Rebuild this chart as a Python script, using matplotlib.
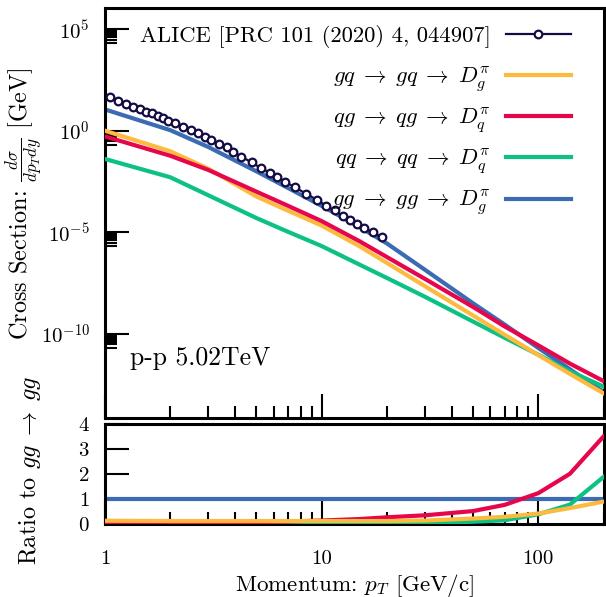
import numpy as np
import matplotlib
matplotlib.use('Agg')
import matplotlib.pyplot as plt
from matplotlib.ticker import FixedLocator, NullFormatter, FixedFormatter, NullLocator

plt.rcParams.update({
    'font.family': 'cmr10',
    'mathtext.fontset': 'cm',
    'axes.unicode_minus': False,
    'axes.formatter.use_mathtext': True,
    'font.size': 15,
})

# ---------------- data ----------------
alice_pt = [1.05, 1.15, 1.25, 1.35, 1.45, 1.55, 1.65, 1.75, 1.85, 1.95,
            2.1, 2.3, 2.5, 2.7, 2.9, 3.1, 3.35, 3.65, 3.9, 4.25, 4.75,
            5.25, 5.75, 6.25, 6.75, 7.5, 8.5, 9.5, 10.5, 11.5, 12.5, 13.5,
            14.5, 15.75, 17.25, 19.0]
alice_xs = [46.7, 29.7, 20.5, 15.1, 11.2, 8.57, 7.14, 5.27, 4.06, 3.10,
            2.31, 1.57, 1.08, 0.745, 0.507, 0.349, 0.222, 0.153, 0.0931,
            0.0530, 0.0281, 0.01426, 0.00867, 0.00515, 0.00313, 0.00166,
            7.82e-4, 3.96e-4, 2.01e-4, 1.18e-4, 6.49e-5, 4.13e-5, 2.63e-5,
            1.62e-5, 9.84e-6, 5.58e-6]

pt = [1, 2, 3, 5, 7, 10, 15, 20, 30, 50, 70, 100, 140, 200]
xs_gq_gq = [1.0, 0.0977, 0.0135, 5.75e-4, 1.15e-4, 2.14e-5, 2.0e-6, 3.09e-7,
            2.19e-8, 7.94e-10, 8.91e-11, 8.91e-12, 1.05e-12, 1.17e-13]
xs_qg_qg = [0.525, 0.0589, 0.0117, 1.0e-3, 2.0e-4, 3.55e-5, 3.55e-6, 6.03e-7,
            5.01e-8, 2.09e-9, 2.29e-10, 2.69e-11, 3.39e-12, 4.68e-13]
xs_qq_qq = [0.0407, 5.13e-3, 6.61e-4, 5.01e-5, 1.05e-5, 2.09e-6, 2.51e-7,
            5.62e-8, 6.61e-9, 3.98e-10, 6.31e-11, 9.33e-12, 1.41e-12, 2.51e-13]
xs_gg_gg = [11.2, 1.07, 0.158, 0.01, 1.51e-3, 2.0e-4, 1.78e-5, 2.82e-6,
            1.41e-7, 3.16e-9, 2.82e-10, 2.0e-11, 1.78e-12, 1.35e-13]

ratio_gq = [0.11, 0.1, 0.1, 0.1, 0.1, 0.1, 0.1, 0.1, 0.12, 0.2, 0.27,
            0.4, 0.62, 0.88]
ratio_qg = [0.05, 0.05, 0.05, 0.06, 0.08, 0.12, 0.18, 0.25, 0.33, 0.5,
            0.75, 1.22, 2.0, 3.5]
ratio_qq = [0.005, 0.005, 0.005, 0.005, 0.005, 0.006, 0.01, 0.015, 0.03,
            0.07, 0.13, 0.37, 0.76, 1.87]
ratio_gg = [1.0] * len(pt)

labels = [r'$gq\;\rightarrow\;gq\;\rightarrow\;D_g^{\pi}$',
          r'$qg\;\rightarrow\;qg\;\rightarrow\;D_q^{\pi}$',
          r'$qq\;\rightarrow\;qq\;\rightarrow\;D_q^{\pi}$',
          r'$gg\;\rightarrow\;gg\;\rightarrow\;D_g^{\pi}$']
alice_label = 'ALICE [PRC 101 (2020) 4, 044907]'
y_major = [1e-10, 1e-5, 1e0, 1e5]
y_major_labels = [r'$10^{-10}$', r'$10^{-5}$', r'$10^{0}$', r'$10^{5}$']
ratio_ticks = [0, 1, 2, 3, 4]
x_major = [1, 10, 100]
x_major_labels = ['1', '10', '100']

# ---------------- style ----------------
c_orange = '#FDBA3F'
c_red = '#E6064B'
c_green = '#0CC183'
c_blue = '#3B6CB3'
c_navy = '#140B45'
lw = 3.0
leg_fs = 16.3
lab_fs = 17.5

fig = plt.figure(figsize=(6.06, 5.97), dpi=100)
ax1 = fig.add_axes([0.1733, 0.2998, 0.8226, 0.6876])
ax2 = fig.add_axes([0.1733, 0.1231, 0.8226, 0.1667], sharex=ax1)

# main panel
h_gg, = ax1.plot(pt, xs_gg_gg, color=c_blue, lw=lw, zorder=2)
h_qq, = ax1.plot(pt, xs_qq_qq, color=c_green, lw=lw, zorder=3)
h_gq, = ax1.plot(pt, xs_gq_gq, color=c_orange, lw=lw, zorder=3.5)
h_qg, = ax1.plot(pt, xs_qg_qg, color=c_red, lw=lw, zorder=4)
h_al, = ax1.plot(alice_pt, alice_xs, color=c_navy, lw=1.6, marker='o', ms=5.5,
                 mfc='white', mec=c_navy, mew=1.6, zorder=5)

ax1.set_xscale('log')
ax1.set_yscale('log')
ax1.set_xlim(1, 200)
ax1.set_ylim(10**-14.15, 10**6.07)

leg_common = dict(frameon=False, markerfirst=False, handlelength=2.88,
                  handletextpad=0.68, borderaxespad=0.0, borderpad=0.4,
                  fontsize=leg_fs, bbox_transform=ax1.transAxes)
leg1 = ax1.legend([h_al], [alice_label], loc='center right',
                  bbox_to_anchor=(0.953, 0.9306), **leg_common)
ax1.add_artist(leg1)
ax1.legend([h_gq, h_qg, h_qq, h_gg], labels, loc='upper right',
           bbox_to_anchor=(0.953, 0.883), labelspacing=0.52, **leg_common)

ax1.text(0.05, 0.146, 'p-p 5.02TeV', transform=ax1.transAxes,
         ha='left', va='center', fontsize=18.5)

ax1.yaxis.set_major_locator(FixedLocator(y_major))
ax1.yaxis.set_major_formatter(FixedFormatter(y_major_labels))
ymin_ticks = [m * 10.0 ** (np.log10(t) - 1) for t in y_major for m in range(2, 10)]
ax1.yaxis.set_minor_locator(FixedLocator(ymin_ticks))
ax1.yaxis.set_minor_formatter(NullFormatter())

ax1.set_ylabel(r'Cross Section: $\frac{d\sigma}{dp_T dy}$ [GeV]', va='center',
               fontsize=lab_fs)
ax1.yaxis.set_label_coords(-0.160, 0.5225)

# ratio panel
ax2.plot(pt, ratio_gg, color=c_blue, lw=lw, zorder=2)
ax2.plot(pt, ratio_qq, color=c_green, lw=lw, zorder=3)
ax2.plot(pt, ratio_qg, color=c_red, lw=lw, zorder=3.5)
ax2.plot(pt, ratio_gq, color=c_orange, lw=lw, zorder=4)
ax2.set_ylim(0, 4)
ax2.yaxis.set_major_locator(FixedLocator(ratio_ticks))
ax2.yaxis.set_minor_locator(NullLocator())
ax2.set_ylabel(r'Ratio to $gg\;\rightarrow\;gg$', va='center', fontsize=lab_fs)
ax2.yaxis.set_label_coords(-0.150, 0.53)

ax2.xaxis.set_major_locator(FixedLocator(x_major))
ax2.xaxis.set_major_formatter(FixedFormatter(x_major_labels))
ax2.set_xlabel(r'Momentum: $p_T$ [GeV/c]', va='center', fontsize=16.6)
ax2.xaxis.set_label_coords(0.5, -0.618)

for ax in (ax1, ax2):
    for s in ax.spines.values():
        s.set_linewidth(2.2)
    ax.tick_params(which='both', direction='in', top=False, right=False,
                   width=1.5, colors='black')
    ax.tick_params(which='major', length=17)
    ax.tick_params(which='minor', length=8.5)
    ax.tick_params(axis='y', pad=11, labelsize=15)
    ax.tick_params(axis='x', pad=19, labelsize=15)

ax1.tick_params(axis='x', which='both', labelbottom=False)

fig.savefig('out.png', dpi=100)
